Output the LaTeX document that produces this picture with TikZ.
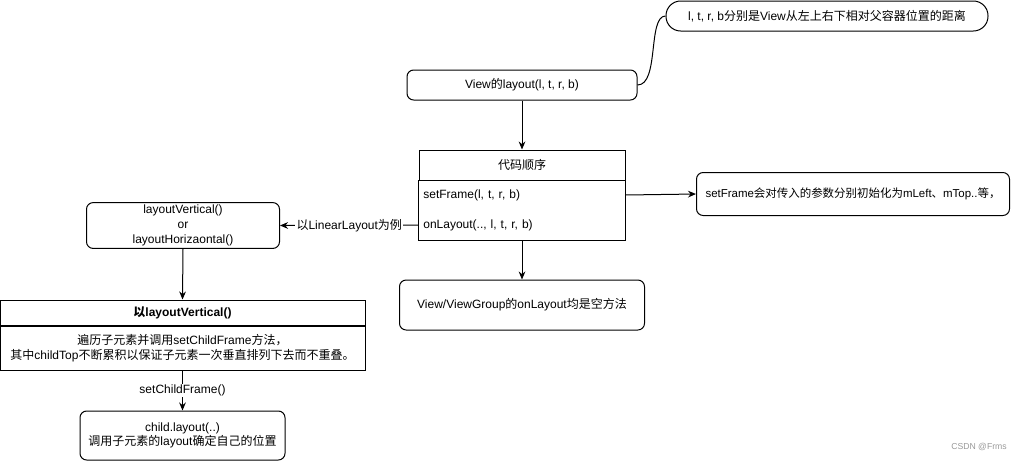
\documentclass[tikz,border=0pt]{standalone}
\usepackage{fontspec}
\setmainfont{Liberation Sans}
\newfontfamily\cjk{Noto Sans CJK SC}
\newcommand{\zh}[1]{{\cjk #1}}
\usetikzlibrary{arrows.meta}

\tikzset{
  base/.style={draw, line width=0.75pt, align=center, inner sep=2pt, font=\fontsize{9}{11}\selectfont},
  rbox/.style={base, rounded corners=5pt},
  pill/.style={base, rounded corners=11pt},
  sbox/.style={base, rounded corners=0pt},
  item/.style={base, draw=none, align=left, text width=148pt, minimum height=22.5pt},
  flow/.style={-{Stealth[length=6pt,width=5pt]}, line width=0.75pt},
  tag/.style={fill=white, inner sep=1pt, font=\fontsize{9}{11}\selectfont}
}

\begin{document}
\begin{tikzpicture}[x=0.75pt, y=-0.75pt]
  \useasboundingbox (0,0) rectangle (1024,461);

  % 1. top: View.layout and the note
  \node[pill, minimum width=241.5pt, minimum height=22.5pt] (note) at (827,16)
    {l, t, r, b\zh{分别是}View\zh{从左上右下相对父容器位置的距离}};
  \node[rbox, minimum width=172.5pt, minimum height=22.5pt] (lay) at (522,85)
    {View\zh{的}layout(l, t, r, b)};
  \draw[line width=0.75pt] (lay.east) .. controls +(22,0) and +(-18,0) .. (note.west);

  % 2. code order block
  \node[sbox, minimum width=154.5pt, minimum height=22.5pt] (order) at (522,165) {\zh{代码顺序}};
  \node[item] (setf) at (522,195) {setFrame(l, t, r, b)};
  \node[item] (onl) at (522,225) {onLayout(.., l, t, r, b)};
  \draw[line width=0.75pt] (order.south west) rectangle (order.south east |- onl.south);
  \draw[flow] (lay) -- (order);

  % 3. right note and empty method
  \node[rbox, minimum width=234.75pt, minimum height=32.25pt, font=\fontsize{8.6}{11}\selectfont] (init) at (853,194)
    {setFrame\zh{会对传入的参数分别初始化为}mLeft\zh{、}mTop..\zh{等，}};
  \draw[flow] (setf.east -| order.east) -- (init.west);
  \node[rbox, minimum width=183.75pt, minimum height=37.5pt] (empty) at (522,305)
    {View/ViewGroup\zh{的}onLayout\zh{均是空方法}};
  \draw[flow] (onl.south) -- (empty.north);

  % 4. left: LinearLayout
  \node[rbox, minimum width=144.75pt, minimum height=33.75pt] (lv) at (183,225.5)
    {layoutVertical()\\or\\layoutHorizaontal()};
  \draw[flow] (onl.west -| order.west) -- node[tag] (eg) {\zh{以}LinearLayout\zh{为例}} (lv.east);

  \node[sbox, minimum width=273.75pt, minimum height=18.75pt, font=\fontsize{9}{11}\selectfont\bfseries] (vert) at (182.5,312.5)
    {\zh{以}layoutVertical()};
  \node[sbox, minimum width=273.75pt, minimum height=33pt, anchor=north] (loop) at (vert.south)
    {\zh{遍历子元素并调用}setChildFrame\zh{方法，}\\\zh{其中}childTop\zh{不断累积以保证子元素一次垂直排列下去而不重叠。}};
  \draw[flow] (lv.south) -- (vert.north);

  \node[rbox, minimum width=153.75pt, minimum height=36.75pt] (child) at (182.5,435.5)
    {child.layout(..)\\\zh{调用子元素的}layout\zh{确定自己的位置}};
  \draw[flow] (loop.south) -- node[tag] (call) {setChildFrame()} (child.north);

  % 5. watermark
  \node[text=gray!80, font=\fontsize{6.5}{8}\selectfont] (mark) at (979,447) {CSDN @Frms};
\end{tikzpicture}
\end{document}
